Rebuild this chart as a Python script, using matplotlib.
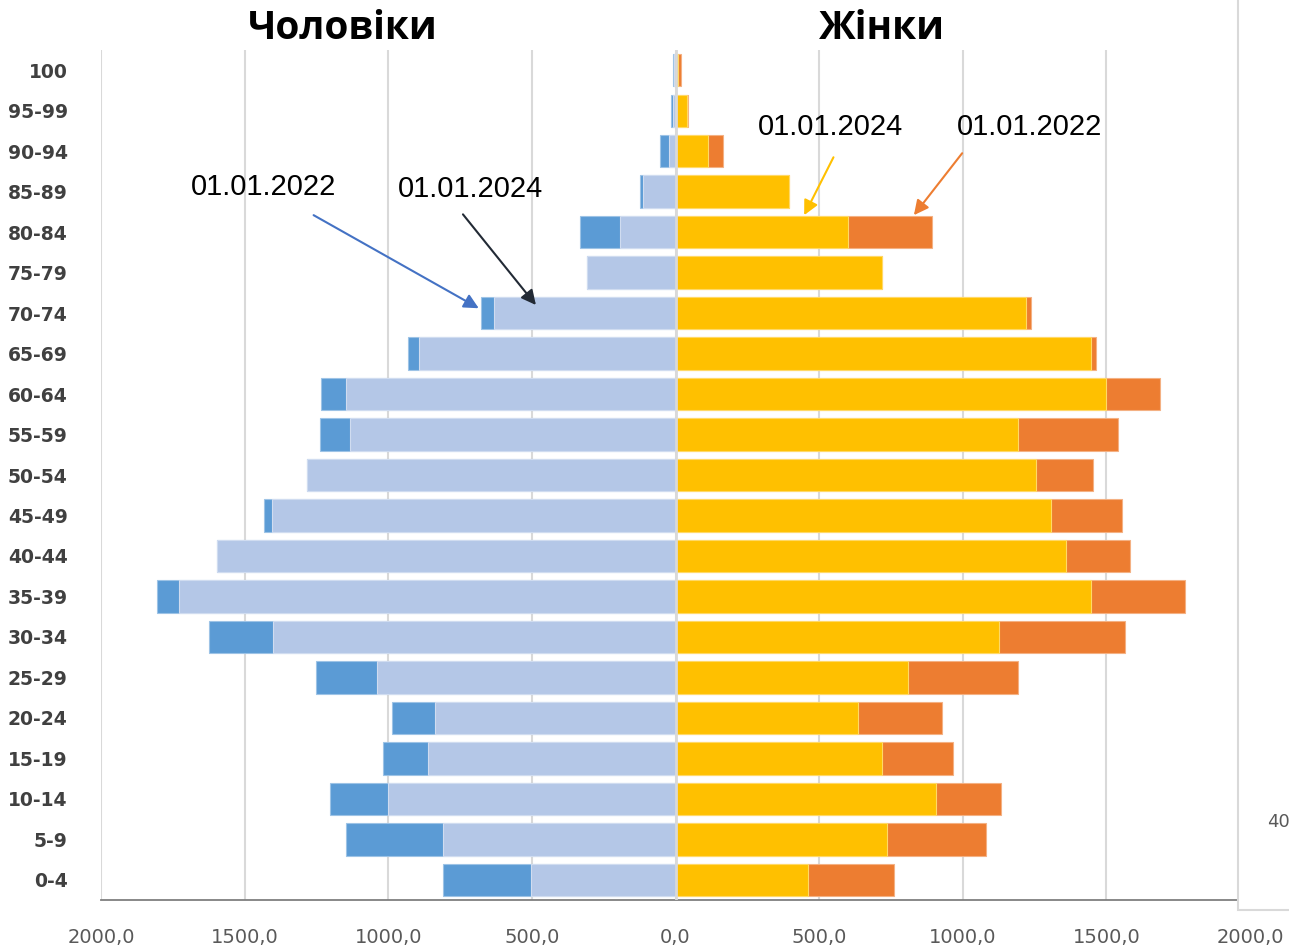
import matplotlib.pyplot as plt
from matplotlib.patches import Rectangle
import numpy as np

# DATA
# -----------
ages = ['0-4', '5-9', '10-14', '15-19', '20-24', '25-29', '30-34', '35-39', '40-44',
        '45-49', '50-54', '55-59', '60-64', '65-69', '70-74', '75-79', '80-84',
        '85-89', '90-94', '95-99', '100']

# men, thousands (shown to the left)
men_2022 = [808, 1146, 1202, 1017, 986, 1253, 1624, 1804, 1597, 1432, 1283, 1237,
            1233, 930, 676, 309, 332, 123, 55, 16, 8]
men_2024 = [503, 811, 1000, 860, 839, 1039, 1401, 1728, 1597, 1404, 1283, 1132,
            1146, 892, 632, 309, 194, 114, 24, 7, 5]

# women, thousands (shown to the right)
women_2022 = [760, 1080, 1133, 965, 929, 1192, 1566, 1775, 1583, 1553, 1454, 1540,
              1686, 1463, 1236, 718, 892, 394, 166, 45, 20]
women_2024 = [461, 738, 906, 719, 634, 808, 1125, 1446, 1361, 1307, 1254, 1191,
              1499, 1446, 1222, 718, 600, 394, 113, 40, 9]

xticks = [-2000, -1500, -1000, -500, 0, 500, 1000, 1500, 2000]
xtick_labels = ['2000,0', '1500,0', '1000,0', '500,0', '0,0', '500,0', '1000,0', '1500,0', '2000,0']

# colours
c_m22 = '#5B9BD5'
c_m24 = '#B4C7E7'
c_w22 = '#ED7D31'
c_w24 = '#FFC000'

# PLOT
# -----------
fig = plt.figure(figsize=(12.89, 9.49), dpi=100)
ax = fig.add_axes([0.0784, 0.0516, 0.8913, 0.8957])

y = np.arange(len(ages))
h = 0.8

ax.barh(y, -np.array(men_2022), height=h, color=c_m22, edgecolor='#9DC3E6', lw=0.8, zorder=2)
ax.barh(y, -np.array(men_2024), height=h, color=c_m24, edgecolor='#D0DCF0', lw=0.8, zorder=3)
ax.barh(y, women_2022, height=h, color=c_w22, edgecolor='#F4B183', lw=0.8, zorder=2)
ax.barh(y, women_2024, height=h, color=c_w24, edgecolor='#FFD966', lw=0.8, zorder=3)

# zero line sits over the bars
ax.axvline(0, color='#d9d9d9', lw=2, zorder=4)

ax.set_xlim(-2000, 2000)
ax.set_ylim(-0.5, len(ages) - 0.5)
ax.set_xticks(xticks)
ax.set_xticklabels(xtick_labels, fontsize=14, color='#595959')
ax.set_yticks(y)
ax.set_yticklabels(ages, fontsize=13.5, fontweight='bold', color='#404040')
ax.tick_params(axis='both', length=0)
ax.tick_params(axis='y', pad=24)
ax.tick_params(axis='x', pad=20)

ax.grid(axis='x', color='#d9d9d9', lw=1.5, zorder=0)
ax.set_axisbelow(True)
for s in ['top', 'right', 'left']:
    ax.spines[s].set_visible(False)
ax.spines['bottom'].set_color('#7f7f7f')
ax.spines['bottom'].set_linewidth(1.3)

# ANNOTATIONS
ann_font = dict(fontsize=21, family='Liberation Sans', color='black', ha='center', va='center')
arrow = dict(arrowstyle='-|>', mutation_scale=22, lw=1.5, shrinkA=0, shrinkB=0)

ax.text(-1433, 17.11, '01.01.2022', **ann_font)
ax.annotate('', xy=(-685, 14.12), xytext=(-1260, 16.42), arrowprops=dict(arrow, color='#4472C4'))
ax.text(-713, 17.06, '01.01.2024', **ann_font)
ax.annotate('', xy=(-486, 14.20), xytext=(-740, 16.44), arrowprops=dict(arrow, color='#222A35'))
ax.text(541, 18.59, '01.01.2024', **ann_font)
ax.annotate('', xy=(448, 16.42), xytext=(550, 17.85), arrowprops=dict(arrow, color='#FFC000'))
ax.text(1231, 18.59, '01.01.2022', **ann_font)
ax.annotate('', xy=(830, 16.42), xytext=(998, 17.95), arrowprops=dict(arrow, color='#ED7D31'))

# TITLES
fig.text(0.266, 0.970, 'Чоловіки', fontsize=28, fontweight='bold', family='Open Sans',
         ha='center', va='center', color='black')
fig.text(0.684, 0.970, 'Жінки', fontsize=28, fontweight='bold', family='Open Sans',
         ha='center', va='center', color='black')

# cut-off neighbouring chart at the right edge
box = Rectangle((0.9604, 0.0411), 0.1, 1.0, transform=fig.transFigure, facecolor='white',
                edgecolor='#d9d9d9', lw=1.5, zorder=10)
fig.add_artist(box)
fig.text(0.9826, 0.1338, '40', fontsize=13, color='#595959', va='center', zorder=11)

fig.savefig('out.png', dpi=100)
